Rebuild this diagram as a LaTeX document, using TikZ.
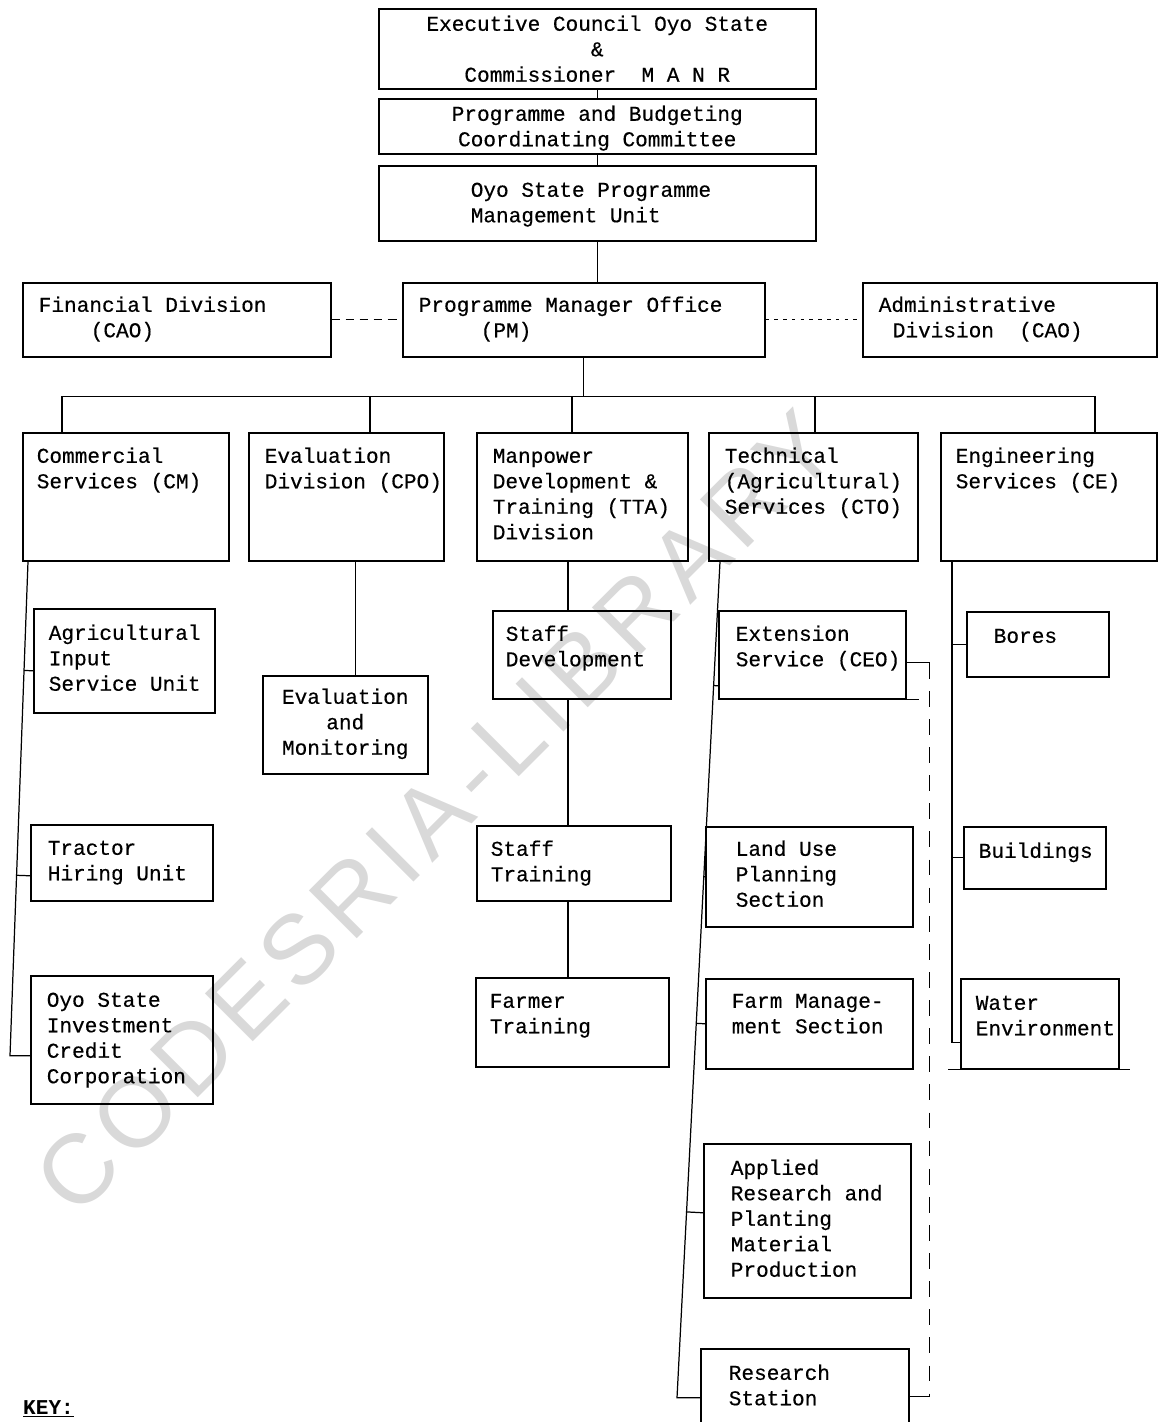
\documentclass[tikz,border=0pt]{standalone}
\usepackage{fontspec}
\usetikzlibrary{calc, positioning}
\newfontfamily\mono[UprightFeatures={FakeBold=0.4}]{Liberation Mono}
\newfontfamily\markfamily[LetterSpace=8]{Liberation Sans}
\newcommand\orgfont{\mono\fontsize{12}{14.5}\selectfont}
\newcommand\markfont{\markfamily\fontsize{56}{56}\selectfont}
\tikzstyle{unit} = [
draw,
line width=0.9pt,
anchor=north west,
inner sep=0pt,
align=left,
font=\orgfont
]
\tikzstyle{link} = [line width=0.7pt]
\tikzstyle{linkdash} = [link, dash pattern=on 5pt off 3pt]
\tikzstyle{linkdot} = [link, dash pattern=on 2pt off 3pt]
\tikzstyle{linklong} = [link, dash pattern=on 9pt off 7pt]
\tikzset{
lbox/.style n args={4}{text width=#1cm, text height=#2cm, text depth=#3cm,
  execute at begin node={\leftskip=#4cm\spaceskip=0.6em\xspaceskip=0.6em}},
cbox/.style n args={3}{align=center, text width=#1cm, text height=#2cm, text depth=#3cm,
  execute at begin node={\spaceskip=0.6em\xspaceskip=0.6em}}
}

\begin{document}
\begin{tikzpicture}[x=0.02cm, y=-0.02cm]
        \useasboundingbox (0,0) rectangle (1158,1422);
        \clip (0,0) rectangle (1158,1422);
        
        \node (mark) [rotate=45, font=\markfont, text=black!15] at (436,812) {CODESRIA-LIBRARY};
        
        % top of the chart
        \node (exec) [unit, cbox={8.74}{0.44}{1.16}] at (378,8)
        {Executive Council Oyo State\\\&\\Commissioner\ \ M A N R};
        
        \node (pbcc) [unit, cbox={8.74}{0.44}{0.66}] at (378,98)
        {Programme and Budgeting\\Coordinating Committee};
        
        \node (psmu) [unit, lbox={8.74}{0.62}{0.88}{1.84}] at (378,165)
        {Oyo State Programme\\Management Unit};
        
        \node (fin) [unit, lbox={6.16}{0.58}{0.90}{0.32}] at (22,282)
        {Financial Division\\\hspace*{1.04cm}(CAO)};
        
        \node (pm) [unit, lbox={7.24}{0.58}{0.90}{0.32}] at (402,282)
        {Programme Manager Office\\\hspace*{1.24cm}(PM)};
        
        \node (adm) [unit, lbox={5.88}{0.58}{0.90}{0.32}] at (862,282)
        {Administrative\\\hspace*{0.28cm}Division\ \ (CAO)};
        
        % divisions
        \node (cm) [unit, lbox={4.12}{0.60}{1.96}{0.28}] at (22,432)
        {Commercial\\Services (CM)};
        
        \node (eval) [unit, lbox={3.90}{0.60}{1.96}{0.32}] at (248,432)
        {Evaluation\\Division (CPO)};
        
        \node (tta) [unit, lbox={4.22}{0.60}{1.96}{0.32}] at (476,432)
        {Manpower\\Development \&\\Training (TTA)\\Division};
        
        \node (cto) [unit, lbox={4.18}{0.60}{1.96}{0.32}] at (708,432)
        {Technical\\(Agricultural)\\Services (CTO)};
        
        \node (ce) [unit, lbox={4.32}{0.60}{1.96}{0.30}] at (940,432)
        {Engineering\\Services (CE)};
        
        % units
        \node (ais) [unit, lbox={3.62}{0.62}{1.46}{0.30}] at (33,608)
        {Agricultural\\Input\\Service Unit};
        
        \node (thu) [unit, lbox={3.64}{0.60}{0.92}{0.34}] at (30,824)
        {Tractor\\Hiring Unit};
        
        \node (osicc) [unit, lbox={3.64}{0.62}{1.94}{0.32}] at (30,975)
        {Oyo State\\Investment\\Credit\\Corporation};
        
        \node (em) [unit, cbox={3.30}{0.56}{1.40}] at (262,675)
        {Evaluation\\and\\Monitoring};
        
        \node (sd) [unit, lbox={3.56}{0.60}{1.16}{0.26}] at (492,610)
        {Staff\\Development};
        
        \node (st) [unit, lbox={3.88}{0.60}{0.90}{0.28}] at (476,825)
        {Staff\\Training};
        
        \node (ft) [unit, lbox={3.86}{0.60}{1.18}{0.28}] at (475,977)
        {Farmer\\Training};
        
        \node (es) [unit, lbox={3.74}{0.60}{1.16}{0.34}] at (718,610)
        {Extension\\Service (CEO)};
        
        \node (lup) [unit, lbox={4.14}{0.58}{1.42}{0.60}] at (705,826)
        {Land Use\\Planning\\Section};
        
        \node (fms) [unit, lbox={4.14}{0.58}{1.22}{0.52}] at (705,978)
        {Farm Manage-\\ment Section};
        
        \node (arpm) [unit, lbox={4.14}{0.62}{2.46}{0.54}] at (703,1143)
        {Applied\\Research and\\Planting\\Material\\Production};
        
        \node (rs) [unit, lbox={4.16}{0.62}{1.18}{0.56}] at (700,1348)
        {Research\\Station};
        
        \node (bores) [unit, lbox={2.84}{0.62}{0.68}{0.54}] at (966,611)
        {Bores};
        
        \node (bld) [unit, lbox={2.84}{0.62}{0.62}{0.30}] at (963,826)
        {Buildings};
        
        \node (we) [unit, lbox={3.16}{0.62}{1.18}{0.30}] at (960,978)
        {Water\\Environment};
        
        \node (key) [anchor=base west, font=\orgfont\bfseries] at (17,1414)
        {\underline{KEY:}};
        
        % chain of command
        \draw [link] (exec) -- (pbcc);
        
        \draw [link] (pbcc) -- (psmu);
        
        \draw [link] (psmu.south) -- (psmu.south |- pm.north);
        
        \draw [linkdash] (fin) -- (pm);
        
        \draw [linkdot] (pm) -- (adm);
        
        \coordinate (bus) at ($(pm.south)+(0,39)$);
        \coordinate (cmin) at ($(cm.north west)+(40,0)$);
        \coordinate (evalin) at ($(eval.north west)+(122,0)$);
        \coordinate (ttain) at ($(tta.north west)+(96,0)$);
        \coordinate (ctoin) at ($(cto.north west)+(107,0)$);
        \coordinate (cein) at ($(ce.north west)+(155,0)$);
        
        \draw [link] (pm.south) -- (bus);
        
        \draw [link] (cmin) |- (bus) -| (cein);
        
        \draw [link] (evalin) -- (evalin |- bus);
        
        \draw [link] (ttain) -- (ttain |- bus);
        
        \draw [link] (ctoin) -- (ctoin |- bus);
        
        % commercial services
        \coordinate (cmtop) at ($(cm.south west)+(6,0)$);
        \coordinate (cmbot) at ($(osicc.west)+(-20,16)$);
        \coordinate (aisin) at ([yshift=-0.2cm]ais.west);
        \coordinate (thuin) at ([yshift=-0.26cm]thu.west);
        
        \draw [link] (cmtop) -- (cmbot) -- (cmbot -| osicc.west);
        
        \draw [link] (aisin) -- ($(cmtop)!(aisin)!(cmbot)$);
        
        \draw [link] (thuin) -- ($(cmtop)!(thuin)!(cmbot)$);
        
        % evaluation
        \draw [link] ([xshift=0.2cm]em.north) -- ([xshift=0.2cm]em.north |- eval.south);
        
        % manpower
        \coordinate (ttaline) at ($(tta.south west)+(92,0)$);
        
        \draw [link] (ttaline) -- (ttaline |- sd.north);
        
        \draw [link] (ttaline |- sd.south) -- (ttaline |- st.north);
        
        \draw [link] (ttaline |- st.south) -- (ttaline |- ft.north);
        
        % technical services
        \coordinate (ctotop) at ($(cto.south west)+(12,0)$);
        \coordinate (ctobot) at ($(rs.west)+(-23,4)$);
        \coordinate (esin) at ([yshift=-0.62cm]es.west);
        \coordinate (arpmin) at ([yshift=0.16cm]arpm.west);
        
        \draw [link] (ctotop) -- (ctobot) -- (ctobot -| rs.west);
        
        \draw [link] (esin) -- ($(ctotop)!(esin)!(ctobot)$);
        
        \draw [link] (lup.west) -- ($(ctotop)!(lup.west)!(ctobot)$);
        
        \draw [link] (fms.west) -- ($(ctotop)!(fms.west)!(ctobot)$);
        
        \draw [link] (arpmin) -- ($(ctotop)!(arpmin)!(ctobot)$);
        
        \coordinate (esout) at ([yshift=-0.16cm]es.east);
        \coordinate (rsout) at ([yshift=-0.06cm]rs.east);
        
        \draw [link] (esout) -- ++(23,0) coordinate (dtop);
        
        \draw [linklong] (dtop) -- (dtop |- rsout);
        
        \draw [link] (dtop |- rsout) -- (rsout);
        
        \draw [line width=0.9pt] (es.south east) -- ++(12,0);
        
        % engineering services
        \coordinate (cetop) at ($(ce.south west)+(12,0)$);
        
        \draw [link] (cetop) |- ([yshift=-0.38cm]we.west);
        
        \draw [link] (bores.west) -- (bores.west -| cetop);
        
        \draw [link] (bld.west) -- (bld.west -| cetop);
        
        \draw [line width=0.9pt] ([xshift=-0.24cm]we.south west) -- ([xshift=0.2cm]we.south east);
        
        \end{tikzpicture}
\end{document}
